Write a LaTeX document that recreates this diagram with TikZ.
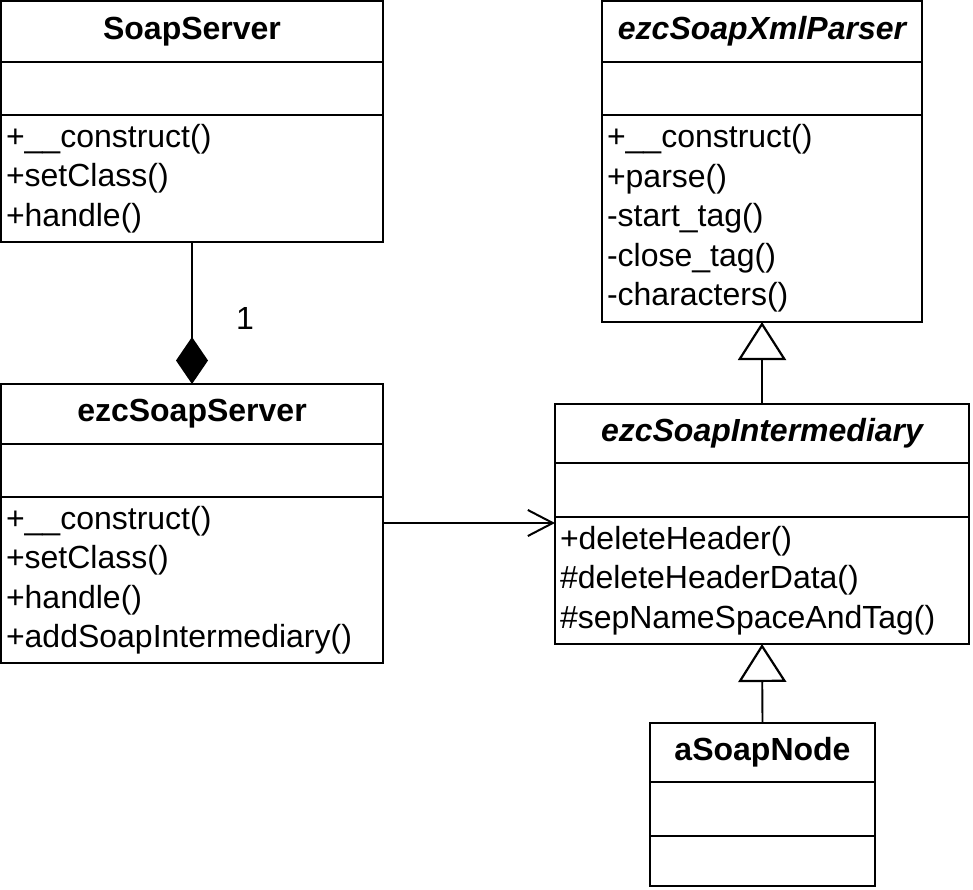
\documentclass[tikz,border=0pt]{standalone}
\usepackage{fontspec}
\setmainfont{Liberation Sans}
\usetikzlibrary{arrows.meta,positioning}

\begin{document}
\begin{tikzpicture}[x=1pt,y=-1pt,
  umlpart/.style={draw,line width=2.9pt,outer sep=0pt,inner sep=0pt,fill=white},
  umltitle/.style={umlpart,font=\fontsize{32}{38}\selectfont\bfseries},
  umlabstract/.style={umltitle,font=\fontsize{32}{38}\selectfont\bfseries\itshape},
  umlops/.style={umlpart,inner xsep=5pt,align=left,font=\fontsize{32}{39.5}\selectfont},
  compose/.style={line width=1.9pt,-{Diamond[length=47pt,width=32pt]}},
  inherit/.style={line width=1.9pt,-{Triangle[open,length=38pt,width=48pt,line width=2.2pt]}},
  assoc/.style={line width=1.9pt,-{Straight Barb[length=25pt,width=26pt,line width=2pt]}}]
  \fill[white] (0,0) rectangle (973,889);
  \useasboundingbox (0,0) rectangle (973,889);
  % SoapServer
  \node[umltitle,minimum width=382pt,minimum height=61pt,anchor=north west]
        (ss) at (1,1) {SoapServer};
  \node[umlpart,minimum width=382pt,minimum height=53pt,below=0pt of ss] (ssattr) {};
  \node[umlops,text width=372pt,minimum height=127pt,below=0pt of ssattr]
        (ssops) {+\_\_construct()\\+setClass()\\+handle()};
  % ezcSoapXmlParser
  \node[umlabstract,minimum width=320pt,minimum height=61pt,anchor=north west]
        (xml) at (602,1) {ezcSoapXmlParser};
  \node[umlpart,minimum width=320pt,minimum height=53pt,below=0pt of xml] (xmlattr) {};
  \node[umlops,text width=310pt,minimum height=207pt,below=0pt of xmlattr]
        (xmlops) {+\_\_construct()\\+parse()\\-start\_tag()\\-close\_tag()\\-characters()};
  % ezcSoapServer
  \node[umltitle,minimum width=382pt,minimum height=60pt,anchor=north west]
        (ess) at (1,384) {ezcSoapServer};
  \node[umlpart,minimum width=382pt,minimum height=53pt,below=0pt of ess] (essattr) {};
  \node[umlops,text width=372pt,minimum height=166pt,below=0pt of essattr]
        (essops) {+\_\_construct()\\+setClass()\\+handle()\\+addSoapIntermediary()};
  % ezcSoapIntermediary
  \node[umlabstract,minimum width=414pt,minimum height=59pt,anchor=north west]
        (int) at (555,404) {ezcSoapIntermediary};
  \node[umlpart,minimum width=414pt,minimum height=54pt,below=0pt of int] (intattr) {};
  \node[umlops,text width=404pt,minimum height=127pt,below=0pt of intattr]
        (intops) {+deleteHeader()\\\#deleteHeaderData()\\\#sepNameSpaceAndTag()};
  % aSoapNode
  \node[umltitle,minimum width=225pt,minimum height=59pt,anchor=north west]
        (node) at (650,723) {aSoapNode};
  \node[umlpart,minimum width=225pt,minimum height=54pt,below=0pt of node] (nodeattr) {};
  \node[umlpart,minimum width=225pt,minimum height=50pt,below=0pt of nodeattr] (nodeops) {};
  % Relations
  \draw[compose] (ssops.south) -- (ess.north);
  \node[font=\fontsize{32}{38}\selectfont] (mult) at (245,318) {1};
  \draw[inherit] (int.north) -- (xmlops.south);
  \draw[inherit] (node.north) -- (intops.south);
  \draw[assoc] ([yshift=-26pt]essops.north east) -- ([yshift=-26pt]essops.north east -| intops.west);
\end{tikzpicture}
\end{document}
